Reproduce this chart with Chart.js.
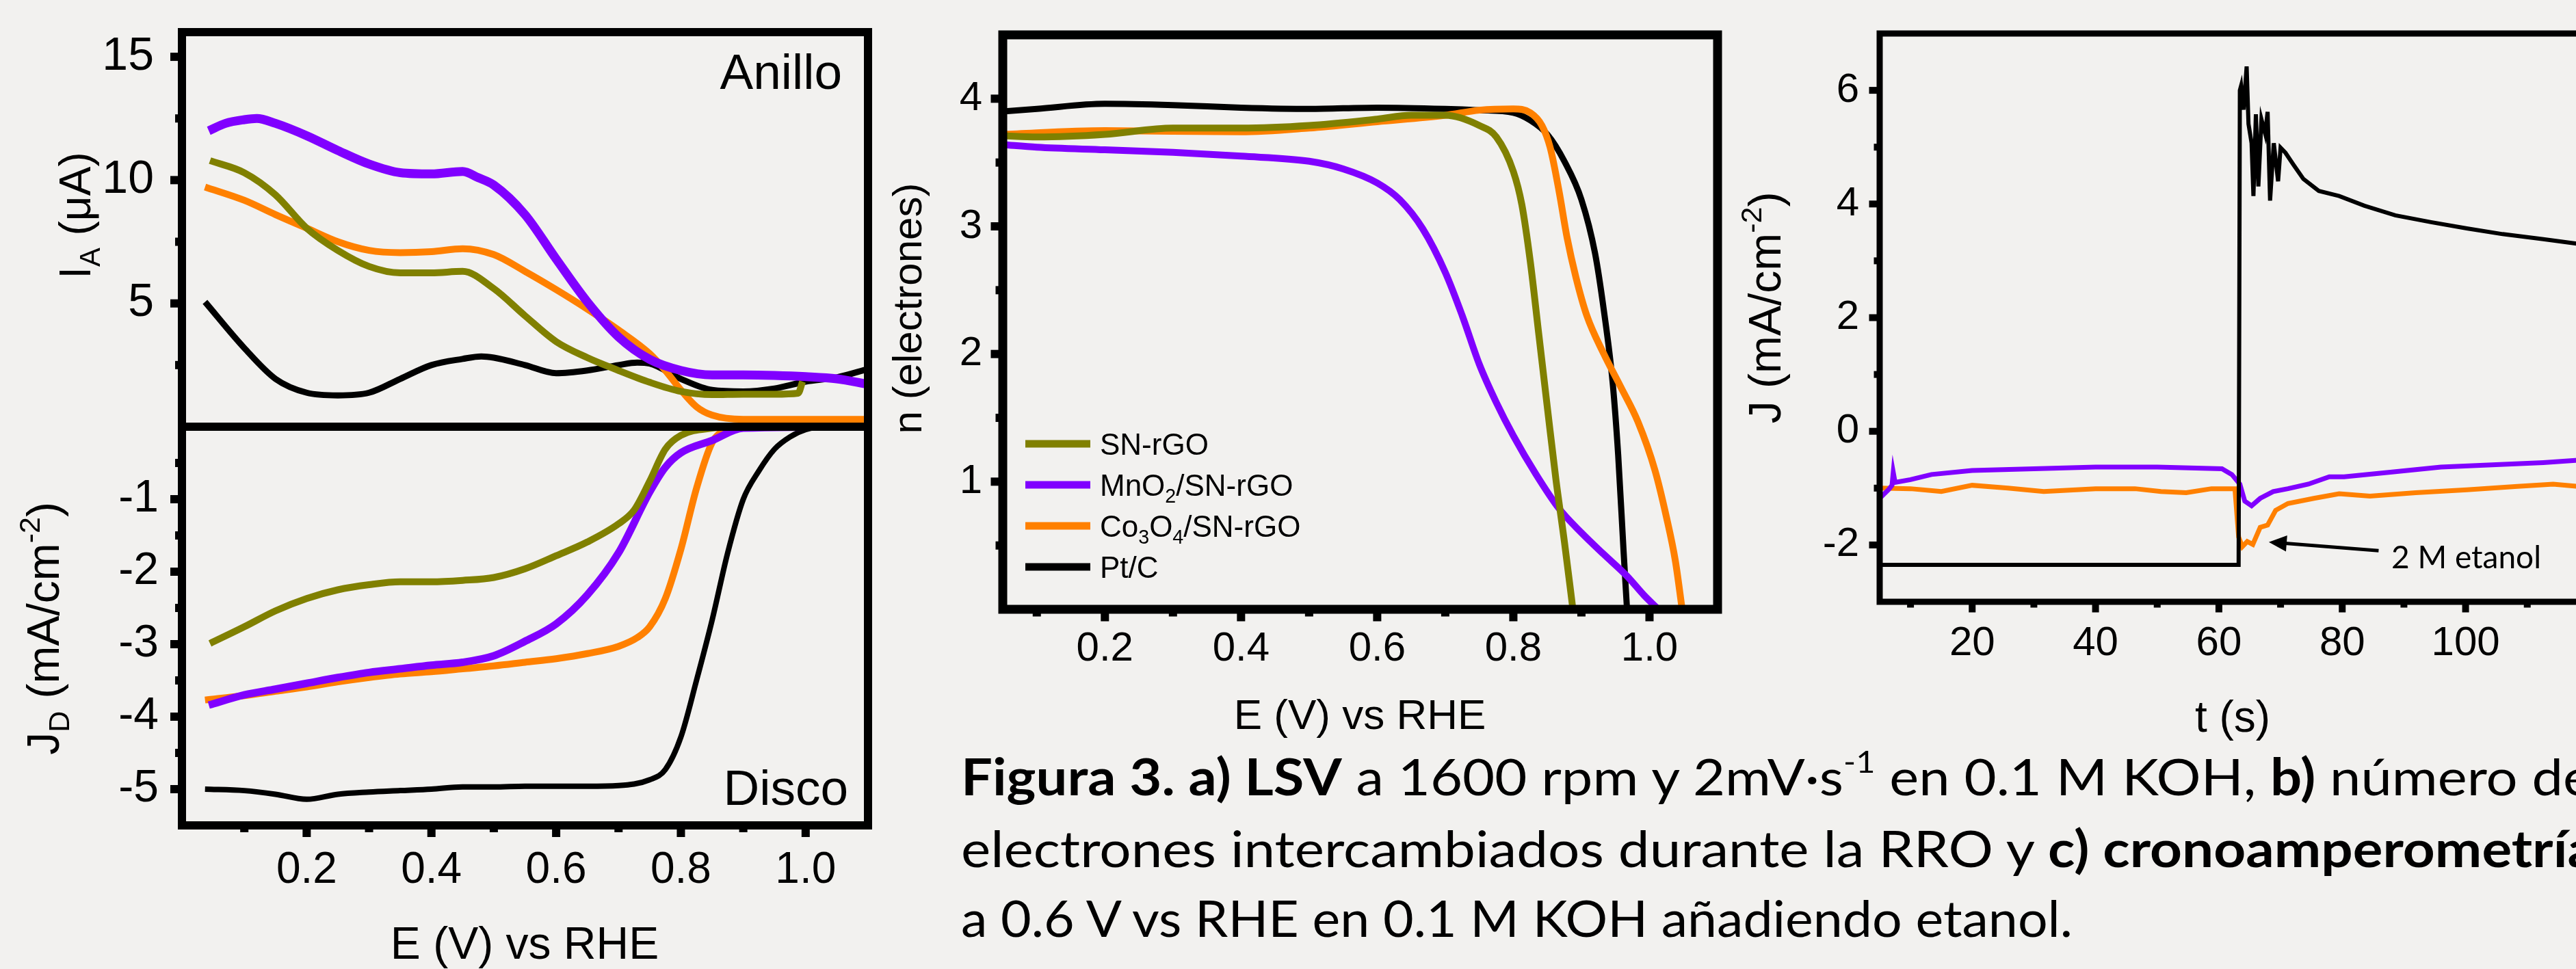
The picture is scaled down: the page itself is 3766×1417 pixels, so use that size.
<!DOCTYPE html>
<html lang="es">
<head>
<meta charset="utf-8">
<title>Figura 3 — LSV, número de electrones y cronoamperometría</title>
<script src="https://cdn.jsdelivr.net/npm/chart.js@4.4.1/dist/chart.umd.min.js"></script>
<style>
  html, body { margin: 0; padding: 0; width: 3766px; height: 1417px; overflow: hidden; background: #f2f1ef; }
  canvas { position: absolute; left: 0; top: 0; }
  #caption { position: absolute; left: 1405px; top: 0; font-family: Lato, "Open Sans", sans-serif; font-size: 74px; color: #000; }
  #caption .ln { position: absolute; left: 0; top: 0; white-space: nowrap; transform-origin: 0 0; }
  #caption .m { display: inline-block; width: 0; height: 0; vertical-align: baseline; }
  #caption sup { font-size: 0.6em; line-height: 0; vertical-align: 0.75em; }
</style>
</head>
<body>
<canvas id="ringChart" width="3900" height="1417"></canvas>
<canvas id="diskChart" width="3900" height="1417"></canvas>
<canvas id="nChart" width="3900" height="1417"></canvas>
<canvas id="caChart" width="3900" height="1417"></canvas>
<div id="caption">
  <div class="ln"><span class="m"></span><span class="t"><b>Figura 3. a) LSV</b> a 1600 rpm y 2mV·s<sup>-1</sup> en 0.1 M KOH, <b>b)</b> número de</span></div>
  <div class="ln"><span class="m"></span><span class="t">electrones intercambiados durante la RRO y <b>c) cronoamperometría</b></span></div>
  <div class="ln"><span class="m"></span><span class="t">a 0.6 V vs RHE en 0.1 M KOH añadiendo etanol.</span></div>
</div>
<script>
// ── Series ──
const seriesLabels = ['SN-rGO', 'MnO_{2}/SN-rGO', 'Co_{3}O_{4}/SN-rGO', 'Pt/C'];
const seriesColors = ['#808000', '#8000ff', '#ff8000', '#000000'];

// a) Anillo: I_A (µA) vs E
const ringSnE = [0.045,0.1,0.15,0.2,0.25,0.3,0.35,0.4,0.45,0.5,0.55,0.6,0.65,0.7,0.75,0.8,0.85,0.9,0.95,0.988,0.995];
const ringSnI = [10.79,10.3,9.4,8.05,7.15,6.5,6.24,6.24,6.3,5.6,4.5,3.45,2.8,2.28,1.8,1.43,1.3,1.32,1.32,1.36,1.83];
const ringMnE = [0.043,0.07,0.1,0.12,0.15,0.2,0.25,0.3,0.35,0.4,0.45,0.475,0.5,0.55,0.6,0.65,0.7,0.75,0.8,0.85,0.9,0.95,1.0,1.05,1.1];
const ringMnI = [12.0,12.3,12.45,12.5,12.3,11.8,11.2,10.65,10.3,10.25,10.35,10.1,9.8,8.6,6.8,5.06,3.64,2.73,2.28,2.1,2.1,2.08,2.03,1.94,1.72];
const ringCoE = [0.037,0.1,0.15,0.2,0.25,0.3,0.35,0.4,0.45,0.5,0.55,0.6,0.65,0.7,0.75,0.775,0.8,0.825,0.85,0.9,0.95,1.0,1.1];
const ringCoI = [9.72,9.18,8.6,8.05,7.5,7.15,7.06,7.1,7.22,6.98,6.3,5.56,4.77,3.92,2.96,2.28,1.49,0.81,0.47,0.3,0.3,0.3,0.3];
const ringPtE = [0.037,0.1,0.15,0.2,0.25,0.3,0.35,0.4,0.45,0.48,0.5,0.55,0.6,0.65,0.7,0.73,0.75,0.8,0.85,0.9,0.95,1.0,1.05,1.1];
const ringPtI = [5.06,3.19,1.94,1.38,1.27,1.38,1.94,2.5,2.75,2.85,2.8,2.5,2.17,2.28,2.5,2.6,2.56,1.94,1.49,1.43,1.55,1.83,2.0,2.34];

// a) Disco: J_D (mA/cm2) vs E
const diskSnE = [0.045,0.1,0.15,0.2,0.25,0.3,0.35,0.4,0.45,0.5,0.55,0.6,0.65,0.7,0.725,0.75,0.775,0.8,0.85,0.9,1.1];
const diskSnJ = [-2.99,-2.76,-2.54,-2.37,-2.25,-2.18,-2.14,-2.14,-2.12,-2.08,-1.96,-1.78,-1.59,-1.34,-1.15,-0.75,-0.31,-0.12,-0.02,0,0];
const diskMnE = [0.043,0.1,0.15,0.2,0.25,0.3,0.35,0.4,0.45,0.5,0.55,0.6,0.65,0.7,0.75,0.775,0.8,0.85,0.9,1.1];
const diskMnJ = [-3.84,-3.7,-3.62,-3.54,-3.46,-3.39,-3.34,-3.29,-3.25,-3.16,-2.96,-2.72,-2.32,-1.74,-0.9,-0.56,-0.36,-0.19,-0.02,0];
const diskCoE = [0.037,0.1,0.15,0.2,0.25,0.3,0.35,0.4,0.45,0.5,0.55,0.6,0.65,0.7,0.73,0.75,0.775,0.8,0.825,0.85,0.875,0.9,1.1];
const diskCoJ = [-3.77,-3.71,-3.65,-3.59,-3.52,-3.46,-3.41,-3.38,-3.34,-3.3,-3.25,-3.2,-3.13,-3.03,-2.91,-2.76,-2.37,-1.69,-0.85,-0.22,-0.04,-0.01,0];
const diskPtE = [0.037,0.1,0.15,0.2,0.25,0.3,0.35,0.4,0.45,0.5,0.55,0.6,0.65,0.7,0.75,0.775,0.8,0.825,0.85,0.875,0.9,0.925,0.95,0.975,1.0,1.03,1.1];
const diskPtJ = [-5.0,-5.02,-5.07,-5.14,-5.07,-5.04,-5.02,-5.0,-4.97,-4.97,-4.96,-4.96,-4.96,-4.95,-4.87,-4.73,-4.28,-3.5,-2.67,-1.74,-1.0,-0.61,-0.31,-0.14,-0.04,0,0];

// b) n (electrones) vs E
const nSnE = [0.05,0.1,0.2,0.3,0.4,0.5,0.6,0.65,0.7,0.75,0.775,0.8,0.8125,0.825,0.8375,0.85,0.8625,0.875,0.8875];
const nSnN = [3.71,3.7,3.72,3.77,3.77,3.79,3.84,3.87,3.87,3.79,3.7,3.43,3.17,2.72,2.15,1.58,1.02,0.53,0];
const nMnE = [0.05,0.1,0.2,0.3,0.4,0.5,0.55,0.6,0.633,0.667,0.7,0.725,0.75,0.775,0.8,0.833,0.867,0.9,0.933,0.967,0.992,1.013];
const nMnN = [3.64,3.62,3.6,3.58,3.55,3.51,3.45,3.34,3.21,2.98,2.64,2.3,1.92,1.62,1.36,1.06,0.79,0.6,0.43,0.26,0.11,0];
const nCoE = [0.05,0.2,0.4,0.5,0.6,0.7,0.75,0.8,0.825,0.842,0.854,0.867,0.879,0.892,0.908,0.933,0.958,0.983,1.008,1.025,1.038,1.048];
const nCoN = [3.72,3.75,3.74,3.77,3.82,3.87,3.91,3.92,3.89,3.79,3.62,3.28,2.91,2.6,2.3,2.0,1.74,1.47,1.09,0.72,0.38,0];
const nPtE = [0.05,0.1,0.2,0.3,0.4,0.5,0.6,0.7,0.75,0.8,0.825,0.85,0.875,0.9,0.92,0.933,0.946,0.954,0.962,0.967];
const nPtN = [3.9,3.92,3.96,3.95,3.93,3.92,3.93,3.92,3.91,3.89,3.83,3.72,3.51,3.21,2.79,2.34,1.77,1.21,0.45,0];

// c) cronoamperometría: J vs t
const caPtT = [5,20,40,60,63.2,63.4,63.6,64.0,64.5,64.8,65.3,65.6,66.0,66.4,66.9,67.5,67.9,68.3,68.9,69.6,70.0,70.8,72.1,73.7,76.2,79.5,83.6,88.6,94.4,100.2,106,112.6,118.2,125];
const caPtJ = [-2.35,-2.35,-2.35,-2.35,-2.35,6.0,6.08,5.66,6.42,5.41,5.07,4.14,5.58,4.31,5.49,5.24,5.62,4.06,5.07,4.4,4.99,4.9,4.69,4.44,4.23,4.14,3.97,3.8,3.68,3.57,3.47,3.38,3.3,3.22];
const caMnT = [5,6.5,7,7.2,7.5,10,13.4,20,30,40,50,60.5,62.1,63.4,64.2,65.3,66.7,68.8,71.2,74.5,77.9,80.3,87.8,96,104.3,112.6,118.2,125];
const caMnJ = [-1.18,-1.02,-0.95,-0.72,-0.9,-0.85,-0.76,-0.69,-0.66,-0.63,-0.63,-0.66,-0.76,-0.93,-1.23,-1.31,-1.18,-1.06,-1.01,-0.93,-0.8,-0.8,-0.72,-0.63,-0.59,-0.55,-0.51,-0.48];
const caCoT = [5,10,15,20,25.8,31.6,40,46.4,50.6,54.7,58.8,62.6,63.2,63.8,64.6,65.5,66.7,67.9,69.2,71.2,75.4,79.5,84.5,91.9,100.2,108.4,114.2,118.2,125];
const caCoJ = [-1.0,-1.01,-1.06,-0.95,-1.0,-1.06,-1.01,-1.01,-1.06,-1.08,-1.01,-1.01,-1.86,-2.03,-1.94,-1.99,-1.69,-1.65,-1.39,-1.27,-1.18,-1.1,-1.14,-1.08,-1.03,-0.97,-0.93,-0.97,-0.95];

// ── Ticks ──
const eTicks = [0.2, 0.4, 0.6, 0.8, 1.0];
const eMinor = [0.1, 0.3, 0.5, 0.7, 0.9];
const ringTicks = [5, 10, 15];
const ringMinor = [2.5, 7.5, 12.5];
const diskTicks = [-1, -2, -3, -4, -5];
const diskMinor = [-0.5, -1.5, -2.5, -3.5, -4.5];
const nTicks = [1, 2, 3, 4];
const nMinor = [0.5, 1.5, 2.5, 3.5];
const tTicks = [20, 40, 60, 80, 100];
const tMinor = [10, 30, 50, 70, 90, 110];
const jTicks = [-2, 0, 2, 4, 6];
const jMinor = [-1, 1, 3, 5];

// ── Helpers ──
const W = 3900, H = 1417;
const ARIAL = '"Liberation Sans", Arial, sans-serif';
const LATO = 'Lato, "Open Sans", sans-serif';

const pts = (xs, ys) => xs.map((x, i) => ({ x, y: ys[i] }));

function curve(i, xs, ys, width, smooth = true) {
  return {
    label: seriesLabels[i], data: pts(xs, ys),
    borderColor: seriesColors[i], borderWidth: width,
    pointRadius: 0, fill: false,
    cubicInterpolationMode: smooth ? 'monotone' : 'default', tension: 0
  };
}

// texte avec _{sub} et ^{sup}
function richText(ctx, n) {
  const fam = n.font || ARIAL;
  const parts = [];
  n.text.replace(/([_^])\{([^}]*)\}|([^_^]+)/g, (m, k, inner, plain) => {
    parts.push(plain ? { t: plain, k: '' } : { t: inner, k });
    return '';
  });
  const fontOf = p => `${p.k ? n.size * 0.65 : n.size}px ${fam}`;
  let w = 0;
  parts.forEach(p => { ctx.font = fontOf(p); p.w = ctx.measureText(p.t).width; w += p.w; });
  ctx.save();
  ctx.translate(n.x, n.y);
  if (n.rot) ctx.rotate(-Math.PI / 2);
  ctx.fillStyle = '#000';
  ctx.textAlign = 'left';
  ctx.textBaseline = 'alphabetic';
  let cx = n.align === 'left' ? 0 : n.align === 'right' ? -w : -w / 2;
  parts.forEach(p => {
    ctx.font = fontOf(p);
    const dy = p.k === '_' ? n.size * 0.22 : p.k === '^' ? -n.size * 0.42 : 0;
    ctx.fillText(p.t, cx, dy);
    cx += p.w;
  });
  ctx.restore();
}

// cadre + graduations (majeures / mineures, vers l'extérieur)
function framePlugin(f) {
  return {
    id: 'frame',
    afterDraw(chart) {
      const { ctx, chartArea: a, scales: { x, y } } = chart;
      const half = f.width / 2;
      ctx.save();
      ctx.strokeStyle = '#000';
      ctx.fillStyle = '#000';
      ctx.lineWidth = f.width;
      ctx.lineJoin = 'miter';
      ctx.strokeRect(a.left, a.top, a.right - a.left, a.bottom - a.top);
      const yTick = (v, len) => {
        const p = y.getPixelForValue(v);
        ctx.fillRect(a.left - half - len, p - f.tick / 2, len + half, f.tick);
      };
      const xTick = (v, len) => {
        const p = x.getPixelForValue(v);
        ctx.fillRect(p - f.tick / 2, a.bottom, f.tick, half + len);
      };
      (f.yMajor || []).forEach(v => yTick(v, 11));
      (f.yMinor || []).forEach(v => yTick(v, 4));
      (f.xMajor || []).forEach(v => xTick(v, 11));
      (f.xMinor || []).forEach(v => xTick(v, 4));
      ctx.restore();
    }
  };
}

function notesPlugin(items) {
  return {
    id: 'notes',
    afterDraw(chart) {
      const { ctx, scales: { x, y } } = chart;
      items.forEach(n => {
        if (n.arrow) {
          const x1 = x.getPixelForValue(n.from[0]), y1 = y.getPixelForValue(n.from[1]);
          const x2 = x.getPixelForValue(n.to[0]), y2 = y.getPixelForValue(n.to[1]);
          const ang = Math.atan2(y2 - y1, x2 - x1);
          ctx.save();
          ctx.strokeStyle = '#000'; ctx.fillStyle = '#000'; ctx.lineWidth = n.width;
          ctx.beginPath();
          ctx.moveTo(x1, y1);
          ctx.lineTo(x2 - Math.cos(ang) * n.head * 0.8, y2 - Math.sin(ang) * n.head * 0.8);
          ctx.stroke();
          ctx.translate(x2, y2); ctx.rotate(ang);
          ctx.beginPath();
          ctx.moveTo(0, 0); ctx.lineTo(-n.head, -n.head * 0.45); ctx.lineTo(-n.head, n.head * 0.45);
          ctx.closePath(); ctx.fill();
          ctx.restore();
        } else {
          richText(ctx, n);
        }
      });
    }
  };
}

function legendPlugin(lg) {
  return {
    id: 'lineLegend',
    afterDraw(chart) {
      const ctx = chart.ctx;
      chart.data.datasets.forEach((d, i) => {
        const yy = lg.y0 + i * lg.step;
        ctx.save();
        ctx.strokeStyle = d.borderColor;
        ctx.lineWidth = lg.width;
        ctx.beginPath(); ctx.moveTo(lg.x1, yy); ctx.lineTo(lg.x2, yy); ctx.stroke();
        ctx.restore();
        richText(ctx, { text: d.label, x: lg.tx, y: yy + lg.size * 0.36, size: lg.size, align: 'left' });
      });
    }
  };
}

function axis(o, fit) {
  const shown = o.show !== false;
  return {
    type: 'linear', min: o.min, max: o.max, display: shown,
    grid: { display: false, drawTicks: false },
    border: { display: false },
    ticks: {
      color: '#000', padding: o.pad || 0, maxRotation: 0, minRotation: 0, autoSkip: false,
      font: { family: ARIAL, size: o.size || 60 },
      callback: v => (o.fmt ? o.fmt(v) : String(v))
    },
    afterBuildTicks: s => { s.ticks = o.ticks.map(v => ({ value: v })); },
    afterFit: s => {
      // la zone de tracé est fixée par box : pas de marge automatique
      s.paddingTop = s.paddingBottom = s.paddingLeft = s.paddingRight = 0;
      if (!shown) return;
      if (fit.w != null) s.width = fit.w;
      if (fit.h != null) s.height = fit.h;
    }
  };
}

// box = zone de tracé (coordonnées page)
function makeChart(id, box, c) {
  const showX = c.x.show !== false;
  return new Chart(document.getElementById(id), {
    type: 'line',
    data: { datasets: c.datasets },
    options: {
      responsive: false, animation: false, devicePixelRatio: 1,
      layout: { autoPadding: false, padding: { left: 0, top: box.t, right: W - box.r, bottom: showX ? 0 : H - box.b } },
      scales: { x: axis(c.x, { h: H - box.b }), y: axis(c.y, { w: box.l }) },
      plugins: { legend: { display: false }, tooltip: { enabled: false } }
    },
    plugins: [framePlugin(c.frame), notesPlugin(c.notes || [])].concat(c.legend ? [legendPlugin(c.legend)] : [])
  });
}

const fmtE = v => v.toFixed(1);

// ── a) Anillo ──
makeChart('ringChart', { l: 266, t: 47, r: 1269, b: 624 }, {
  datasets: [
    curve(0, ringSnE, ringSnI, 10),
    curve(1, ringMnE, ringMnI, 13),
    curve(2, ringCoE, ringCoI, 10),
    curve(3, ringPtE, ringPtI, 9)
  ],
  x: { min: 0, max: 1.1, ticks: eTicks, show: false },
  y: { min: 0, max: 16, ticks: ringTicks, size: 68, pad: 41 },
  frame: { width: 12, tick: 12, yMajor: ringTicks, yMinor: ringMinor },
  notes: [
    { text: 'Anillo', x: 1231, y: 130, size: 73, align: 'right' },
    { text: 'I_{A} (μA)', x: 132, y: 315, size: 64, rot: true }
  ]
});

// ── a) Disco ──
makeChart('diskChart', { l: 266, t: 624, r: 1269, b: 1207 }, {
  datasets: [
    curve(0, diskSnE, diskSnJ, 10),
    curve(1, diskMnE, diskMnJ, 11),
    curve(2, diskCoE, diskCoJ, 10),
    curve(3, diskPtE, diskPtJ, 8)
  ],
  x: { min: 0, max: 1.1, ticks: eTicks, size: 64, pad: 28, fmt: fmtE },
  y: { min: -5.5, max: 0, ticks: diskTicks, size: 66, pad: 34 },
  frame: { width: 12, tick: 12, yMajor: diskTicks, yMinor: diskMinor, xMajor: eTicks, xMinor: eMinor },
  notes: [
    { text: 'Disco', x: 1240, y: 1177, size: 73, align: 'right' },
    { text: 'J_{D} (mA/cm^{-2})', x: 86, y: 919, size: 66, rot: true },
    { text: 'E (V) vs RHE', x: 767, y: 1402, size: 66 }
  ]
});

// ── b) número de electrones ──
makeChart('nChart', { l: 1466, t: 51, r: 2511, b: 891 }, {
  datasets: [
    curve(0, nSnE, nSnN, 10),
    curve(1, nMnE, nMnN, 10),
    curve(2, nCoE, nCoN, 10),
    curve(3, nPtE, nPtN, 9)
  ],
  x: { min: 0.05, max: 1.1, ticks: eTicks, size: 60, pad: 22, fmt: fmtE },
  y: { min: 0, max: 4.5, ticks: nTicks, size: 60, pad: 30 },
  frame: { width: 13, tick: 12, yMajor: nTicks, yMinor: nMinor, xMajor: eTicks, xMinor: eMinor },
  legend: { x1: 1499, x2: 1594, tx: 1608, y0: 649, step: 60, size: 44, width: 11 },
  notes: [
    { text: 'n (electrones)', x: 1347, y: 451, size: 60, rot: true },
    { text: 'E (V) vs RHE', x: 1988, y: 1066, size: 62 }
  ]
});

// ── c) cronoamperometría ──
makeChart('caChart', { l: 2748, t: 49, r: 3830, b: 880 }, {
  datasets: [
    curve(3, caPtT, caPtJ, 6, false),
    curve(1, caMnT, caMnJ, 7, false),
    curve(2, caCoT, caCoJ, 7, false)
  ],
  x: { min: 5, max: 125, ticks: tTicks, size: 60, pad: 25 },
  y: { min: -3, max: 7, ticks: jTicks, size: 60, pad: 30 },
  frame: { width: 9, tick: 10, yMajor: jTicks, yMinor: jMinor, xMajor: tTicks, xMinor: tMinor },
  notes: [
    { text: 'J (mA/cm^{-2})', x: 2603, y: 450, size: 66, rot: true },
    { text: 't (s)', x: 3264, y: 1070, size: 64 },
    { arrow: true, from: [85.9, -2.1], to: [68.1, -1.95], width: 5, head: 26 },
    { text: '2 M etanol', x: 3496, y: 831, size: 46, font: LATO, align: 'left' }
  ]
});

// ── Pie de figura: ancho de cada línea y líneas base ──
const captionWidths = [2385, 2390, 1625];
const captionBaselines = [1163, 1268, 1370];
function layoutCaption() {
  const lines = document.querySelectorAll('#caption .ln');
  lines.forEach((ln, i) => {
    ln.style.transform = 'none';
    ln.style.top = '0px';
    const k = captionWidths[i] / ln.querySelector('.t').getBoundingClientRect().width;
    const base = ln.querySelector('.m').getBoundingClientRect().top;
    ln.style.top = (captionBaselines[i] - base) + 'px';
    ln.style.transform = `scaleX(${k})`;
  });
}
layoutCaption();
if (document.fonts && document.fonts.ready) document.fonts.ready.then(layoutCaption);
</script>
</body>
</html>
